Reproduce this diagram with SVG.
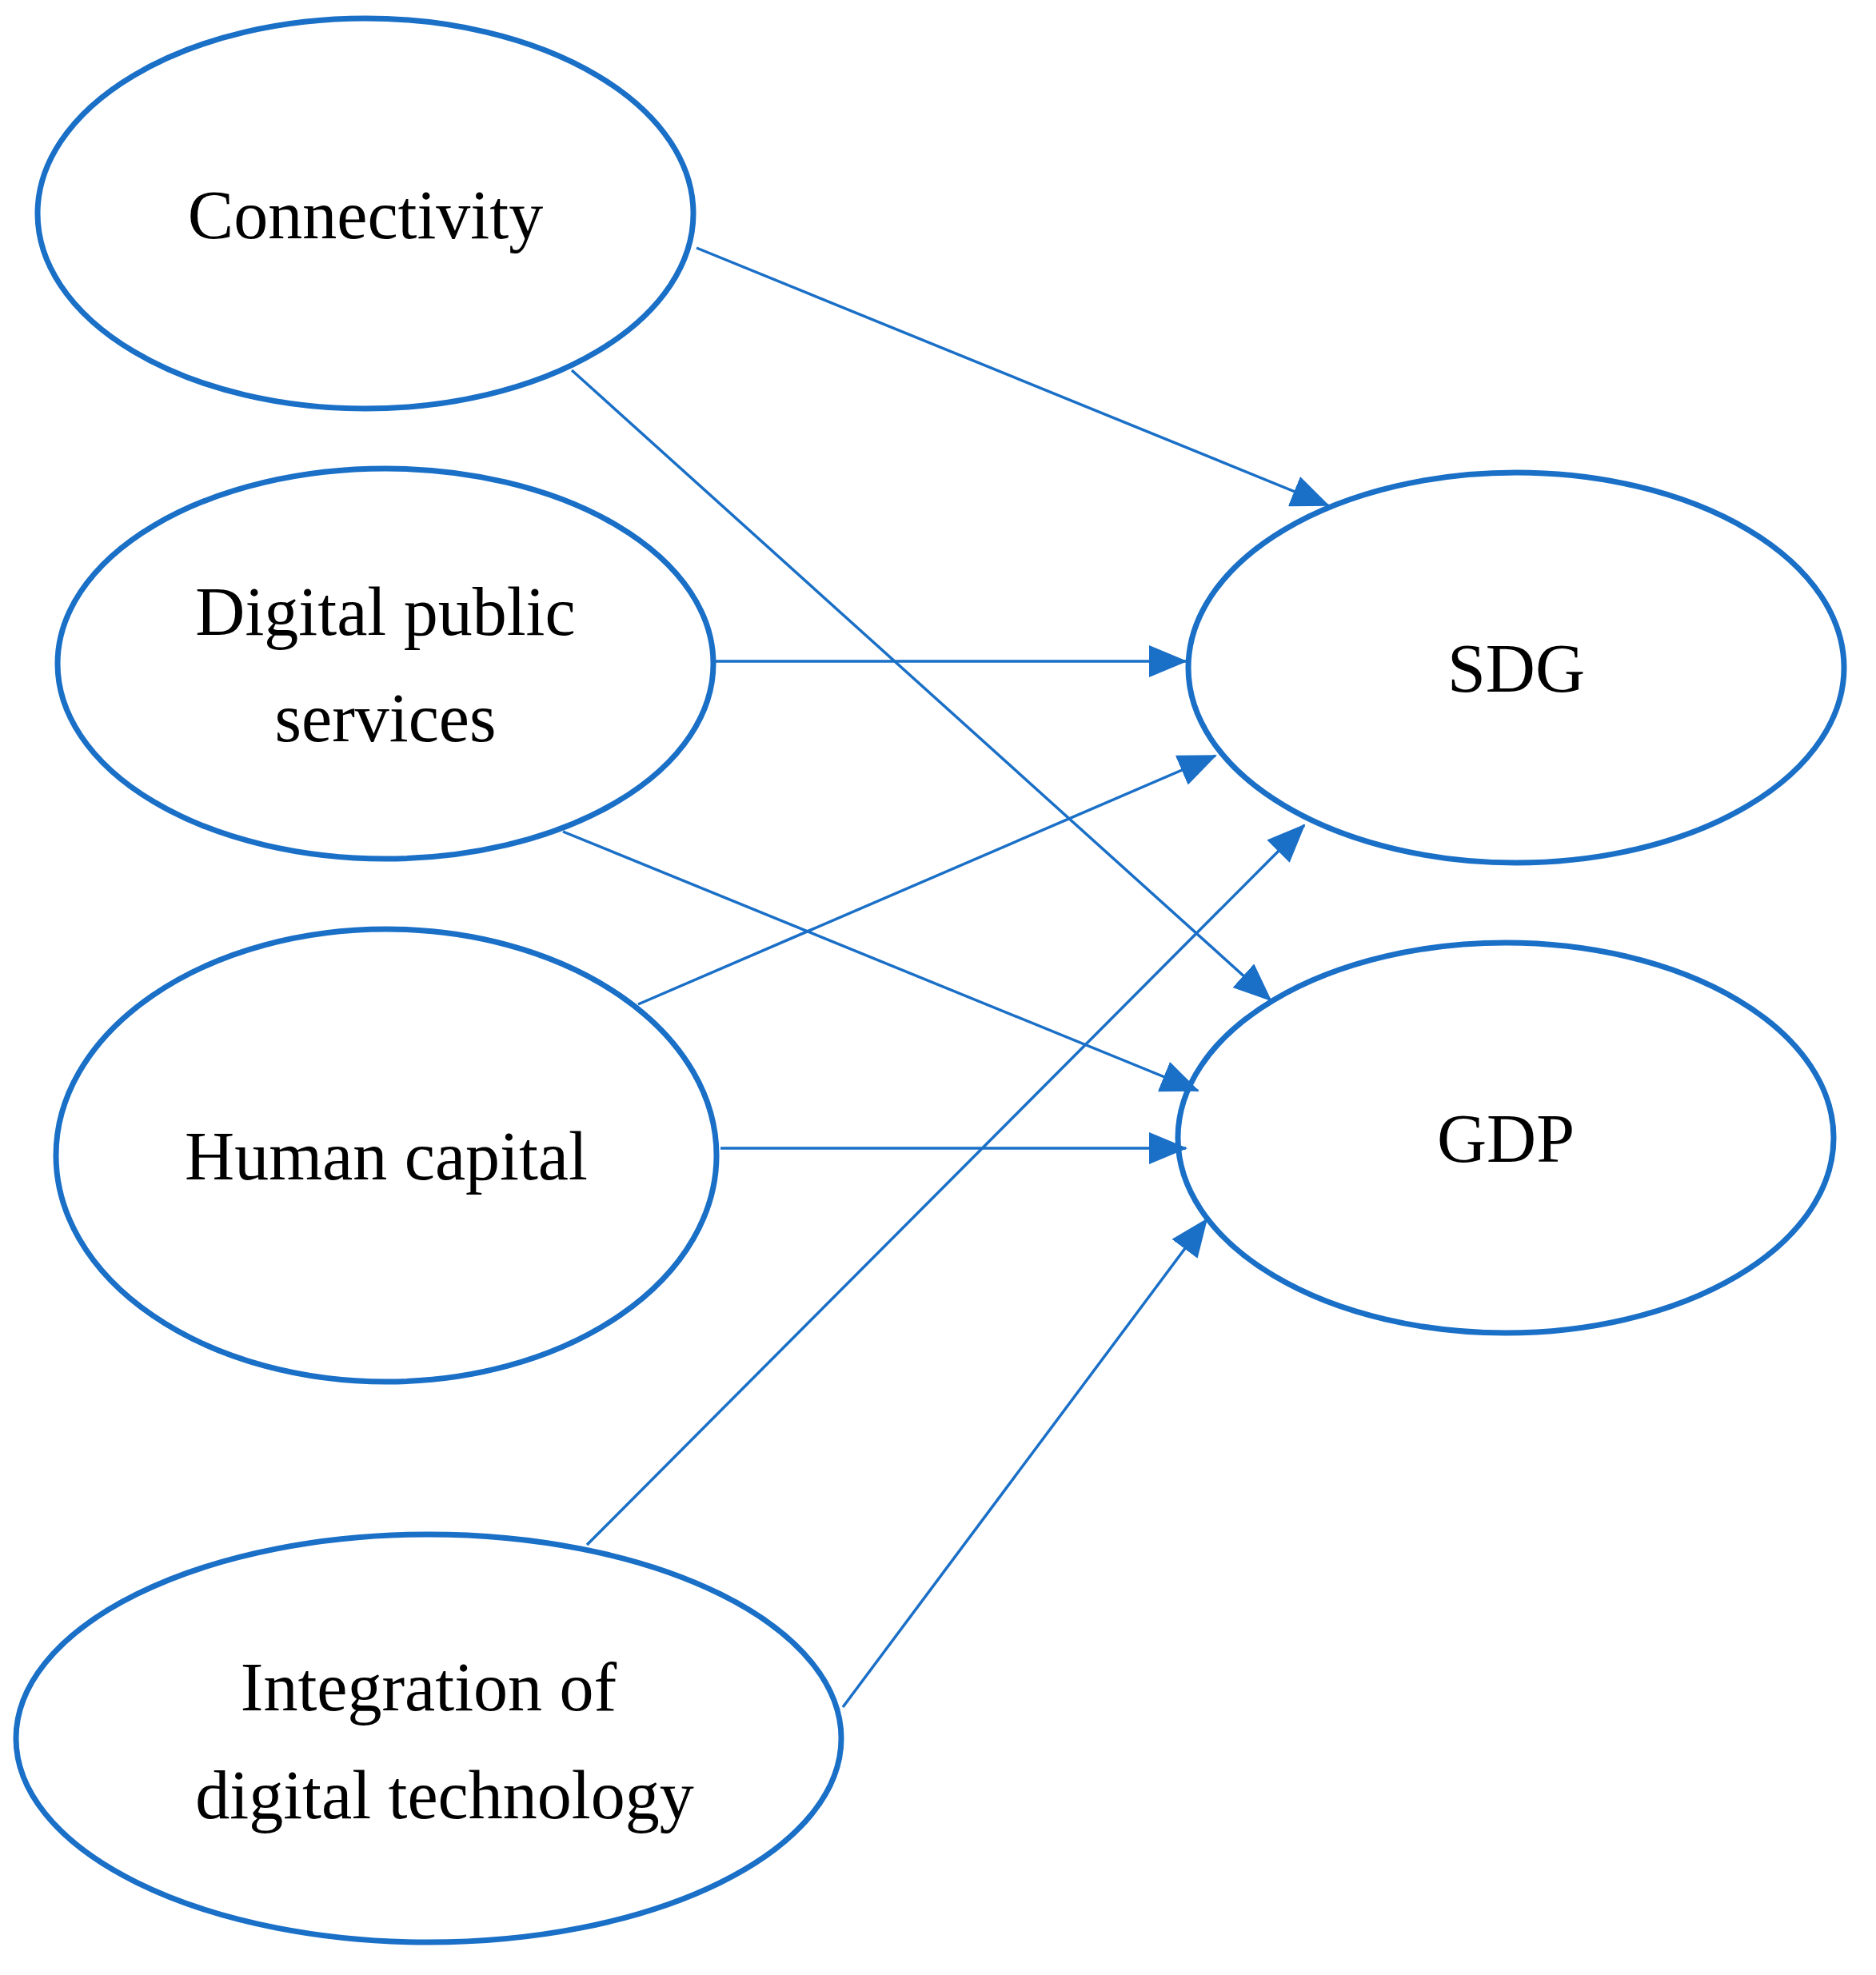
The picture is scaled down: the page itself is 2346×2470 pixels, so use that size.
<svg xmlns="http://www.w3.org/2000/svg" width="2346" height="2470" viewBox="0 0 2346 2470">
<style>
.n{fill:#fff;stroke:#1a6fc7;stroke-width:7}
.t{font-family:"Liberation Serif",serif;font-size:86px;fill:#000;text-anchor:middle}
.c line{stroke:#1a6fc7;stroke-width:3.5;marker-end:url(#a)}
</style>
<defs><marker id="a" markerUnits="userSpaceOnUse" markerWidth="48" markerHeight="40" refX="46" refY="20" orient="auto"><path d="M0,0 L48,20 L0,40 Z" fill="#1a6fc7"/></marker></defs>
<rect width="2346" height="2470" fill="#fff"/>
<g id="connectivity"><ellipse class="n" cx="457" cy="267" rx="410" ry="244"/><text class="t" x="457" y="298">Connectivity</text></g>
<g id="digital"><ellipse class="n" cx="482" cy="830" rx="410" ry="244"/><text class="t" x="482" y="794">Digital public</text><text class="t" x="482" y="927">services</text></g>
<g id="human"><ellipse class="n" cx="483" cy="1445" rx="413" ry="283"/><text class="t" x="483" y="1475">Human capital</text></g>
<g id="integration"><ellipse class="n" cx="536" cy="2174" rx="516" ry="255"/><text class="t" x="536" y="2139">Integration of</text><text class="t" x="556" y="2274">digital technology</text></g>
<g id="sdg"><ellipse class="n" cx="1896" cy="835" rx="410" ry="244"/><text class="t" x="1896" y="865">SDG</text></g>
<g id="gdp"><ellipse class="n" cx="1883" cy="1423" rx="410" ry="244"/><text class="t" x="1883" y="1453">GDP</text></g>
<g class="c" id="connectors">
<line x1="871" y1="310" x2="1661" y2="632"/>
<line x1="715" y1="463" x2="1589" y2="1251"/>
<line x1="891" y1="827" x2="1483" y2="827"/>
<line x1="704" y1="1040" x2="1498" y2="1364"/>
<line x1="798" y1="1256" x2="1520" y2="945"/>
<line x1="901" y1="1436" x2="1483" y2="1436"/>
<line x1="734" y1="1932" x2="1631" y2="1032"/>
<line x1="1054" y1="2135" x2="1509" y2="1525"/>
</g>
</svg>
